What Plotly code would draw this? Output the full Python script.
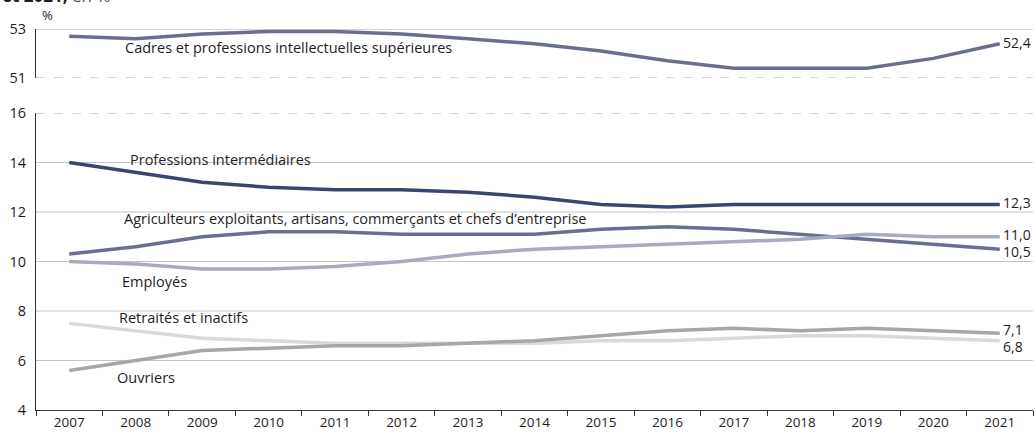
import plotly.graph_objects as go

years = [str(y) for y in range(2007, 2022)]

cadres = [52.7, 52.6, 52.8, 52.9, 52.9, 52.8, 52.6, 52.4, 52.1, 51.7, 51.4, 51.4, 51.4, 51.8, 52.4]
prof_inter = [14.0, 13.6, 13.2, 13.0, 12.9, 12.9, 12.8, 12.6, 12.3, 12.2, 12.3, 12.3, 12.3, 12.3, 12.3]
agriculteurs = [10.3, 10.6, 11.0, 11.2, 11.2, 11.1, 11.1, 11.1, 11.3, 11.4, 11.3, 11.1, 10.9, 10.7, 10.5]
employes = [10.0, 9.9, 9.7, 9.7, 9.8, 10.0, 10.3, 10.5, 10.6, 10.7, 10.8, 10.9, 11.1, 11.0, 11.0]
retraites = [7.5, 7.2, 6.9, 6.8, 6.7, 6.7, 6.7, 6.7, 6.8, 6.8, 6.9, 7.0, 7.0, 6.9, 6.8]
ouvriers = [5.6, 6.0, 6.4, 6.5, 6.6, 6.6, 6.7, 6.8, 7.0, 7.2, 7.3, 7.2, 7.3, 7.2, 7.1]

names = [
    "Cadres et professions intellectuelles supérieures",
    "Professions intermédiaires",
    "Agriculteurs exploitants, artisans, commerçants et chefs d’entreprise",
    "Employés",
    "Retraités et inactifs",
    "Ouvriers",
]

series = [cadres, prof_inter, agriculteurs, employes, retraites, ouvriers]
colors = ["#6b6f8f", "#3c4572", "#6a6e92", "#a8abc0", "#d6d9df", "#a7a7a7"]
axes = ["y2", "y", "y", "y", "y", "y"]
# label placement (x in category units, y in axis units)
label_pos = [(0.81, 52.24), (0.89, 14.12), (0.80, 11.72), (0.77, 9.2), (0.72, 7.72), (0.69, 5.33)]
# vertical nudges of end labels (px, positive = up)
end_shift = [1, 2, -2, 2, -6, 4]

FONT = "Open Sans"
TXT = "#1e1e1e"
fig = go.Figure()

for s, c, ax in zip(series, colors, axes):
    fig.add_trace(go.Scatter(x=years, y=s, mode="lines", yaxis=ax,
                             line=dict(color=c, width=3.5), hoverinfo="skip"))

# plot layout
H = 433 - 29 - 23
bot_top = (410 - 113) / H
top_bot = (410 - 78) / H

shapes = []
for v in [6, 8, 10, 12, 14]:
    shapes.append(dict(type="line", xref="paper", x0=0, x1=1, yref="y", y0=v, y1=v,
                       line=dict(color="#c4c4c4", width=1), layer="below"))
shapes.append(dict(type="line", xref="paper", x0=0, x1=1, yref="y", y0=16, y1=16,
                   line=dict(color="#b0b0b0", width=1, dash="dash"), layer="below"))
shapes.append(dict(type="line", xref="paper", x0=0, x1=1, yref="y2", y0=53, y1=53,
                   line=dict(color="#c4c4c4", width=1.5), layer="below"))
shapes.append(dict(type="line", xref="paper", x0=0, x1=1, yref="y2", y0=51, y1=51,
                   line=dict(color="#b0b0b0", width=1, dash="dash"), layer="below"))

annotations = []
for n, (lx, ly), ax in zip(names, label_pos, axes):
    annotations.append(dict(text=n, x=lx, y=ly, xref="x", yref=ax, xanchor="left",
                            yanchor="middle", showarrow=False,
                            font=dict(family=FONT, size=14.5, color=TXT)))
for s, ax, sh in zip(series, axes, end_shift):
    annotations.append(dict(text=f"{s[-1]:.1f}".replace(".", ","), x=len(years) - 1,
                            y=s[-1], xref="x", yref=ax, xanchor="left", yanchor="middle",
                            xshift=1, yshift=sh, showarrow=False,
                            font=dict(family=FONT, size=14, color=TXT)))
annotations.append(dict(text="%", x=(40 - 36) / 997, y=(410 - 15) / H, xref="paper", yref="paper",
                        xanchor="left", yanchor="middle", showarrow=False,
                        font=dict(family=FONT, size=13, color=TXT)))
annotations.append(dict(text="<b>et 2021,</b> <span style='color:#555'>en %</span>",
                        x=(0 - 36) / 997, y=(410 + 5) / H, xref="paper", yref="paper",
                        xanchor="left", yanchor="middle", showarrow=False,
                        font=dict(family=FONT, size=17, color=TXT)))

fig.update_layout(
    width=1036, height=433,
    margin=dict(l=36, r=3, t=29, b=23),
    paper_bgcolor="white", plot_bgcolor="white",
    showlegend=False,
    font=dict(family=FONT, size=13, color=TXT),
    xaxis=dict(type="category", range=[-0.5, 14.5], tickson="boundaries",
               ticks="outside", ticklen=5, tickcolor="#333", showgrid=False,
               showline=True, linecolor="#333", linewidth=1.2,
               tickfont=dict(family=FONT, size=13.5, color=TXT), anchor="y"),
    yaxis=dict(domain=[0, bot_top], range=[4, 16], tickvals=[4, 6, 8, 10, 12, 14, 16],
               showgrid=False, zeroline=False, showline=True, linecolor="#333", linewidth=1.2,
               ticks="", ticklabelstandoff=6, tickfont=dict(family=FONT, size=14.5, color=TXT)),
    yaxis2=dict(domain=[top_bot, 1], range=[51, 53], tickvals=[51, 53], anchor="x",
                showgrid=False, zeroline=False, showline=True, linecolor="#333", linewidth=1.2,
                ticks="", ticklabelstandoff=6, tickfont=dict(family=FONT, size=14.5, color=TXT)),
    shapes=shapes,
    annotations=annotations,
)

fig.write_html("out.html", config={"displayModeBar": False},
               post_script="document.body.style.margin='0';")
